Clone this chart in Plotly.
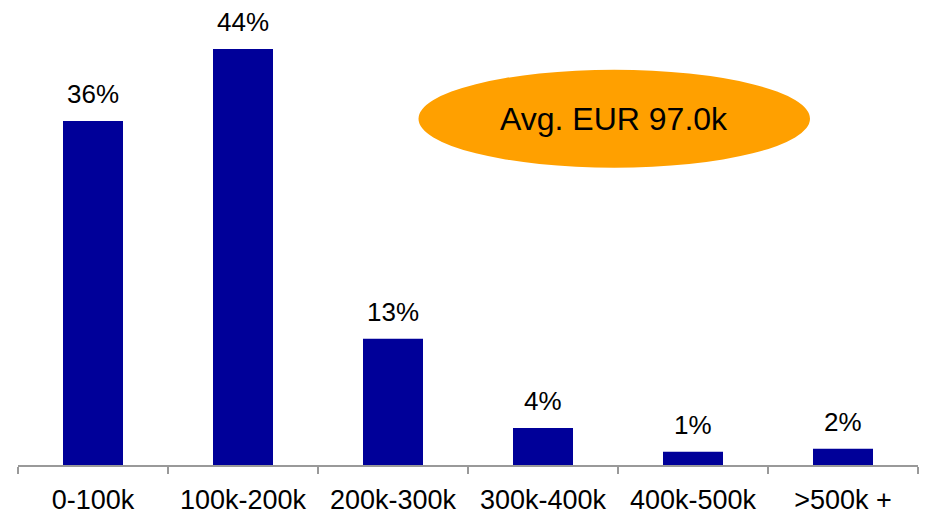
import plotly.graph_objects as go

categories = ["0-100k", "100k-200k", "200k-300k", "300k-400k", "400k-500k", ">500k +"]
shares = [36.2, 43.8, 13.3, 3.9, 1.4, 1.7]
labels = ["36%", "44%", "13%", "4%", "1%", "2%"]
avg_text = "Avg. EUR 97.0k"

FONT = "Liberation Sans, Arial, sans-serif"

fig = go.Figure()
fig.add_trace(go.Bar(
    x=categories, y=shares, width=0.4,
    marker=dict(color="#000099", line=dict(width=0)),
    hoverinfo="skip",
))

for c, v, t in zip(categories, shares, labels):
    fig.add_annotation(x=c, y=v, text=t, showarrow=False, yanchor="bottom",
                       yshift=10, font=dict(family=FONT, size=26, color="#000000"))

fig.add_shape(type="circle", xref="x", yref="y", x0=2.17, x1=4.78, y0=31.3, y1=41.6,
              fillcolor="#FFA000", line=dict(width=0), layer="above")
fig.add_annotation(x=3.475, y=36.45, text=avg_text, showarrow=False,
                   font=dict(family=FONT, size=32, color="#000000"))

fig.update_layout(
    width=925, height=515,
    margin=dict(l=18, r=7, t=10, b=50, autoexpand=False),
    paper_bgcolor="white", plot_bgcolor="white",
    showlegend=False, bargap=0.6,
    xaxis=dict(
        type="category", range=[-0.5, 5.5], automargin=False,
        showline=True, linecolor="#999999", linewidth=1.5,
        ticks="outside", tickson="boundaries", ticklen=7, tickcolor="#999999", tickwidth=1.5,
        tickfont=dict(family=FONT, size=27, color="#000000"),
        ticklabelstandoff=10,
        showgrid=False, fixedrange=True,
    ),
    yaxis=dict(range=[0, 455 / 9.5], visible=False, showgrid=False, fixedrange=True),
)

fig.write_html("out.html")
